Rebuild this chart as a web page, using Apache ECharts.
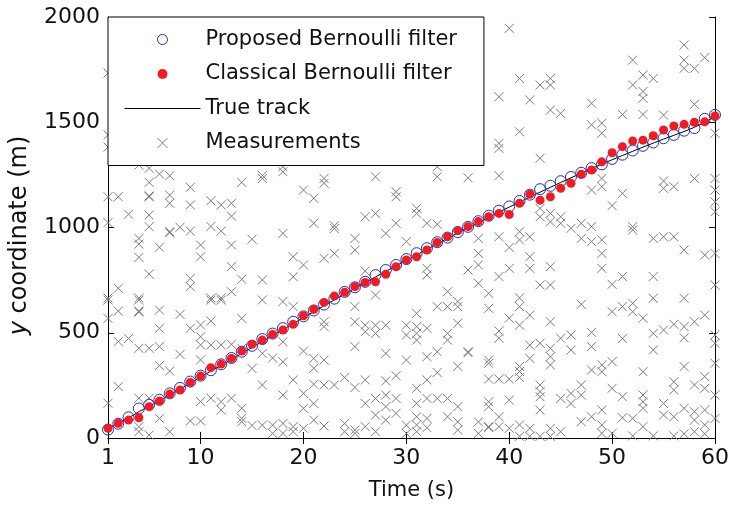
<!DOCTYPE html>
<html><head><meta charset="utf-8">
<script src="https://cdn.jsdelivr.net/npm/echarts@6/dist/echarts.min.js"></script>
<style>html,body{margin:0;padding:0;background:#fff}#c{width:732px;height:511px}</style>
</head><body><div id="c"></div>
<script>
const timeSteps = [1,2,3,4,5,6,7,8,9,10,11,12,13,14,15,16,17,18,19,20,21,22,23,24,25,26,27,28,29,30,
  31,32,33,34,35,36,37,38,39,40,41,42,43,44,45,46,47,48,49,50,51,52,53,54,55,56,57,58,59,60];
const xTickValues = [1,10,20,30,40,50,60];
const trueTrack = [45,70,95,125,150,178,205,232,260,290,318,345,373,402,430,458,487,515,543,572,
  600,628,656,684,711,738,765,792,818,845,870,896,922,948,973,998,1023,1048,1073,1097,
  1121,1145,1168,1191,1214,1236,1258,1280,1301,1322,1342,1362,1382,1401,1420,1438,1456,1476,1500,1528];
const proposedEst = [40,68,98,140,158,182,212,238,268,296,322,350,380,410,438,470,496,522,552,578,
  606,634,662,694,716,742,774,798,822,850,878,902,930,952,978,1003,1030,1056,1080,1100,
  1126,1156,1182,1198,1220,1240,1260,1282,1300,1326,1346,1366,1388,1404,1424,1440,1460,1472,1516,1535];
const classicalEst = [46,70,85,96,149,176,209,228,264,294,334,351,378,413,445,465,492,513,540,581,
  611,644,674,692,719,739,742,778,814,846,861,893,929,956,985,1004,1028,1051,1067,1062,
  1115,1158,1130,1146,1186,1210,1253,1273,1312,1355,1384,1411,1415,1436,1463,1482,1490,1500,1502,1530];
const measurements = [
  [1734,1440,1382,1146,1023,665,655,568,165],
  [1146,711,603,458,244],
  [1063,473],
  [1297,948,921,858,665,655,603,598,426,189,54,30],
  [1281,1214,1150,1146,1059,1004,779,426,189,14],
  [1254,906,608,521,434,344,93],
  [1246,1154,1115,980,975,318,30],
  [1001,587,397],
  [1191,1107,983,758,719,521,81],
  [917,861,537,481,442,371,173,81],
  [1127,1005,665,655,556,442,189],
  [1107,983,665,655,442,173,133],
  [1115,1054,917,814,695,445,189],
  [1214,754,568,426,141,93,77],
  [944,330,60],
  [1247,1233,751,656,402,252,61],
  [380,61,22],
  [1289,1265,972,648,457,362,204,69,22],
  [861,766,624,276,54,30],
  [1178,822,413,212,141,46],
  [1139,1020,378,331,255,164,85],
  [1233,1210,854,552,529,370,252,57],
  [1008,995,877,252],
  [287,69,30],
  [948,893,624,552,434,240,38,22],
  [1051,793,536,505,276,164,54],
  [1241,1067,679,536,497,188,109,30],
  [972,536,402,271,204,149,85],
  [1170,1146,1020,296,188,117],
  [933,536,489,370,61,22],
  [1091,1067,592,529,497,465,236,164,101,62,30],
  [1020,806,774,521,386,276,188,93,49],
  [1289,1241,1015,624,410,311,188],
  [695,624,497,465,188,101],
  [648,624,545,340,149,77,38],
  [1236,798,410,405],
  [948,877,822,735,77,22],
  [687,616,370,355,280,172,149,54,50],
  [1621,1400,1376,1246,956,767,508,474,280,101,54],
  [1946,905,806,569,280,180,46],
  [1708,1455,980,941,666,624,536,340,316,288,62,8],
  [1606,956,861,806,584,441,378,46,8],
  [1677,1329,1091,1051,727,450,252,220,196,133,8],
  [1708,1677,1558,1067,1027,814,727,552,426,386,347,46,8],
  [1542,1051,1020,474,188,30],
  [996,489,418,212,164],
  [1020,948,635,252,204,77],
  [1590,1488,1178,1004,933,502,434,323,101],
  [1496,1448,1233,1194,941,877,806,347,315,133,62,22],
  [1104,730,600,363,236,22],
  [1537,1162,767,624,473,196,96],
  [1795,1677,1004,988,640,600,93,10],
  [1724,1646,1614,1537,569,315,204,172,141,54],
  [1708,948,767,664,497,418,10],
  [1534,1221,1186,956,513,164,109],
  [1194,956,540,267,228,101,10],
  [1867,1795,1756,893,664,529,476,339,141,20],
  [1756,1585,1233,552,252,125,85,30],
  [1807,869,584,292,236,133,62,20],
  [1448,1233,1178,1122,1075,877,727,489,450,355,204,93]
];
const seriesNames = ['Proposed Bernoulli filter','Classical Bernoulli filter','True track','Measurements'];

const FONT = 'DejaVu Sans';
const BLUE = '#1f33a6';
const RED = '#ee1c25';
const GRAY = '#7c7c7c';
const measData = [];
measurements.forEach((vals, i) => vals.forEach(v => measData.push([timeSteps[i], v])));
const pair = arr => arr.map((v, i) => [timeSteps[i], v]);
const X_PATH = 'path://M0,0L10,10M10,0L0,10';

const chart = echarts.init(document.getElementById('c'), null, {renderer: 'canvas'});
const axisLineStyle = {color: '#000', width: 1};
chart.setOption({
  animation: false,
  backgroundColor: '#fff',
  grid: {left: 108, right: 16, top: 17, bottom: 73, containLabel: false},
  xAxis: [{
    type: 'value', min: 1, max: 60, position: 'bottom',
    name: 'Time (s)', nameLocation: 'middle', nameGap: 42,
    nameTextStyle: {fontFamily: FONT, fontSize: 21, color: '#111'},
    axisLine: {show: true, lineStyle: axisLineStyle},
    axisTick: {show: true, inside: true, length: 6, lineStyle: axisLineStyle, customValues: xTickValues},
    axisLabel: {fontFamily: FONT, fontSize: 22, color: '#111', margin: 9, customValues: xTickValues},
    splitLine: {show: false}
  }, {
    type: 'value', min: 1, max: 60, position: 'top',
    axisLine: {show: true, lineStyle: axisLineStyle},
    axisTick: {show: true, inside: true, length: 6, lineStyle: axisLineStyle, customValues: xTickValues},
    axisLabel: {show: false},
    splitLine: {show: false}
  }],
  yAxis: [{
    type: 'value', min: 0, max: 2000, interval: 500, position: 'left',
    name: '{i|y} coordinate (m)', nameLocation: 'middle', nameGap: 76, nameRotate: 90,
    nameTextStyle: {fontFamily: FONT, fontSize: 24, color: '#111', padding: [0, 16, 0, 0],
      rich: {i: {fontFamily: FONT, fontSize: 24, fontStyle: 'italic', color: '#111'}}},
    axisLine: {show: true, lineStyle: axisLineStyle},
    axisTick: {show: true, inside: true, length: 6, lineStyle: axisLineStyle},
    axisLabel: {fontFamily: FONT, fontSize: 22, color: '#111', margin: 8, formatter: v => String(v)},
    splitLine: {show: false}
  }, {
    type: 'value', min: 0, max: 2000, interval: 500, position: 'right',
    axisLine: {show: true, lineStyle: axisLineStyle},
    axisTick: {show: true, inside: true, length: 6, lineStyle: axisLineStyle},
    axisLabel: {show: false},
    splitLine: {show: false}
  }],
  legend: {
    orient: 'vertical', left: 108, top: 17,
    backgroundColor: '#fff', borderColor: '#000', borderWidth: 1, borderRadius: 0,
    padding: [12, 27, 12, 16],
    itemWidth: 76, itemHeight: 10, itemGap: 13.5,
    textStyle: {fontFamily: FONT, fontSize: 21, color: '#111', lineHeight: 20},
    selectedMode: false,
    data: [
      {name: seriesNames[0], icon: 'circle', itemStyle: {color: 'rgba(0,0,0,0)', borderColor: BLUE, borderWidth: 1, opacity: 1}},
      {name: seriesNames[1], icon: 'circle', itemStyle: {color: RED, borderWidth: 0, opacity: 1}},
      {name: seriesNames[2], itemStyle: {color: 'rgba(0,0,0,0)', borderColor: 'rgba(0,0,0,0)', borderWidth: 0, opacity: 0},
        lineStyle: {color: '#000', width: 1, opacity: 1}},
      {name: seriesNames[3], icon: X_PATH, itemStyle: {color: 'rgba(0,0,0,0)', borderColor: GRAY, borderWidth: 1, opacity: 1}}
    ],
    z: 10
  },
  series: [{
    name: seriesNames[3], type: 'scatter', z: 1,
    symbol: X_PATH, symbolSize: 9,
    itemStyle: {color: 'rgba(0,0,0,0)', borderColor: GRAY, borderWidth: 1, opacity: 1},
    data: measData
  }, {
    name: seriesNames[2], type: 'line', z: 2, symbol: 'none', showSymbol: false,
    lineStyle: {color: '#000', width: 1},
    itemStyle: {color: '#000'},
    data: pair(trueTrack)
  }, {
    name: seriesNames[0], type: 'scatter', z: 3,
    symbol: 'circle', symbolSize: 11,
    itemStyle: {color: 'rgba(0,0,0,0)', borderColor: BLUE, borderWidth: 1, opacity: 1},
    data: pair(proposedEst)
  }, {
    name: seriesNames[1], type: 'scatter', z: 4,
    symbol: 'circle', symbolSize: 9,
    itemStyle: {color: RED, opacity: 1},
    data: pair(classicalEst)
  }]
});
</script></body></html>
